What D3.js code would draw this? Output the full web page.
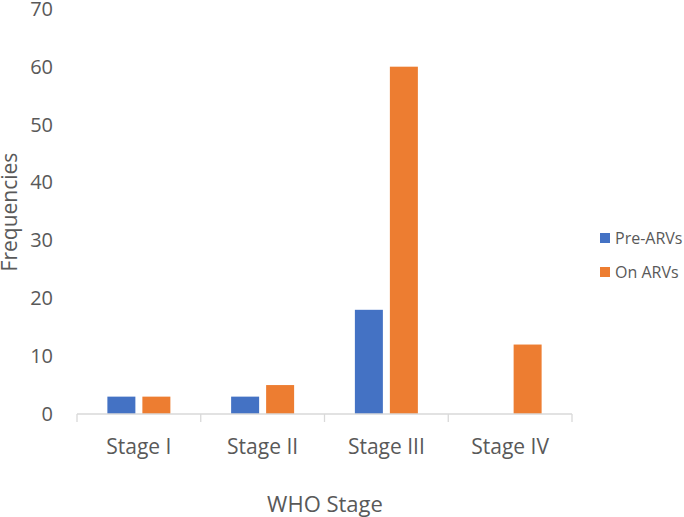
<!DOCTYPE html>
<html>
<head>
<meta charset="utf-8">
<script src="https://cdn.jsdelivr.net/npm/d3@7"></script>
<style>
  body { margin: 0; background: #fff; }
  text { font-family: "Open Sans", sans-serif; fill: #595959; }
</style>
</head>
<body>
<svg width="684" height="517"></svg>
<script>
const stages = ['Stage I', 'Stage II', 'Stage III', 'Stage IV'];
const seriesNames = ['Pre-ARVs', 'On ARVs'];
const preARVs = [3, 3, 18, 0];
const onARVs = [3, 5, 60, 12];
const yTicks = [0, 10, 20, 30, 40, 50, 60, 70];
const colors = ['#4472c4', '#ed7d31'];

const svg = d3.select('svg');

const x0 = d3.scaleBand().domain(stages).range([77, 572]).padding(0);
const x1 = d3.scaleBand().domain(seriesNames).range([0, x0.bandwidth()])
  .paddingInner(0.2).paddingOuter(0.868);
const y = d3.scaleLinear().domain([0, 70]).range([414, 8.8]);

const rows = stages.map((s, i) => ({stage: s, values: [preARVs[i], onARVs[i]]}));

// y tick labels
svg.selectAll('.ylab')
  .data(yTicks)
  .enter()
  .append('text')
  .attr('x', 53)
  .attr('y', d => y(d))
  .attr('dy', '0.35em')
  .attr('text-anchor', 'end')
  .style('font-size', '20px')
  .text(d => d);

// bars
const groups = svg.selectAll('.grp')
  .data(rows)
  .enter()
  .append('g')
  .attr('transform', d => `translate(${x0(d.stage)},0)`);

groups.selectAll('rect')
  .data(d => d.values.map((v, k) => ({name: seriesNames[k], value: v, k: k})))
  .enter()
  .append('rect')
  .attr('x', d => x1(d.name))
  .attr('width', x1.bandwidth())
  .attr('y', d => y(d.value))
  .attr('height', d => y(0) - y(d.value))
  .attr('fill', d => colors[d.k]);

// x axis
svg.append('line')
  .attr('x1', 77).attr('x2', 572)
  .attr('y1', y(0)).attr('y2', y(0))
  .attr('stroke', '#d9d9d9').attr('stroke-width', 1.3);

const edges = stages.map(s => x0(s)).concat([x0.range()[1]]);
svg.selectAll('.tick')
  .data(edges)
  .enter()
  .append('line')
  .attr('x1', d => d).attr('x2', d => d)
  .attr('y1', y(0)).attr('y2', y(0) + 8)
  .attr('stroke', '#d9d9d9').attr('stroke-width', 1.3);

svg.selectAll('.xlab')
  .data(stages)
  .enter()
  .append('text')
  .attr('x', d => x0(d) + x0.bandwidth() / 2)
  .attr('y', 447)
  .attr('dy', '0.35em')
  .attr('text-anchor', 'middle')
  .style('font-size', '21px')
  .text(d => d);

// axis titles
svg.append('text')
  .attr('x', 325)
  .attr('y', 504)
  .attr('dy', '0.35em')
  .attr('text-anchor', 'middle')
  .style('font-size', '22px')
  .text('WHO Stage');

svg.append('text')
  .attr('transform', 'translate(10,212) rotate(-90)')
  .attr('dy', '0.35em')
  .attr('text-anchor', 'middle')
  .style('font-size', '21px')
  .text('Frequencies');

// legend
const legend = svg.selectAll('.leg')
  .data(seriesNames)
  .enter()
  .append('g')
  .attr('transform', (d, i) => `translate(600,${238 + i * 34})`);

legend.append('rect')
  .attr('x', 0).attr('y', -5)
  .attr('width', 10).attr('height', 10)
  .attr('fill', (d, i) => colors[i]);

legend.append('text')
  .attr('x', 15)
  .attr('y', 0)
  .attr('dy', '0.35em')
  .style('font-size', '16px')
  .text(d => d);
</script>
</body>
</html>
